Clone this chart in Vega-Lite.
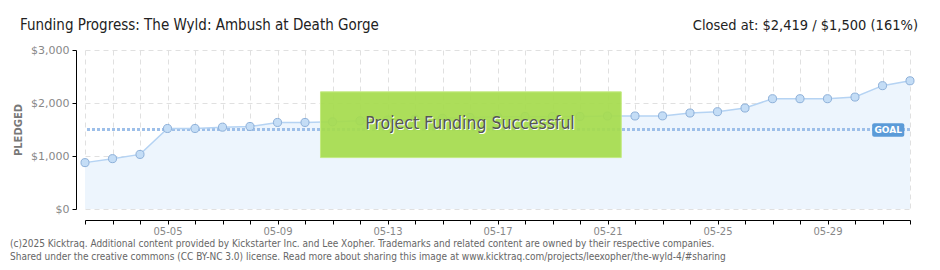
{
  "$schema": "https://vega.github.io/schema/vega-lite/v6.json",
  "autosize": {"type": "none"},
  "padding": {"left": 85, "top": 50, "right": 30, "bottom": 61},
  "width": 825,
  "height": 159,
  "background": "white",
  "config": {"view": {"stroke": null}, "font": "DejaVu Sans"},
  "data": {"values": [
    {"date": "2025-05-02", "pledged": 875},
    {"date": "2025-05-03", "pledged": 950},
    {"date": "2025-05-04", "pledged": 1030},
    {"date": "2025-05-05", "pledged": 1519},
    {"date": "2025-05-06", "pledged": 1519},
    {"date": "2025-05-07", "pledged": 1544},
    {"date": "2025-05-08", "pledged": 1557},
    {"date": "2025-05-09", "pledged": 1633},
    {"date": "2025-05-10", "pledged": 1633},
    {"date": "2025-05-11", "pledged": 1645},
    {"date": "2025-05-12", "pledged": 1664},
    {"date": "2025-05-13", "pledged": 1680},
    {"date": "2025-05-14", "pledged": 1695},
    {"date": "2025-05-15", "pledged": 1712},
    {"date": "2025-05-16", "pledged": 1728},
    {"date": "2025-05-17", "pledged": 1740},
    {"date": "2025-05-18", "pledged": 1747},
    {"date": "2025-05-19", "pledged": 1747},
    {"date": "2025-05-20", "pledged": 1747},
    {"date": "2025-05-21", "pledged": 1755},
    {"date": "2025-05-22", "pledged": 1755},
    {"date": "2025-05-23", "pledged": 1757},
    {"date": "2025-05-24", "pledged": 1811},
    {"date": "2025-05-25", "pledged": 1836},
    {"date": "2025-05-26", "pledged": 1905},
    {"date": "2025-05-27", "pledged": 2081},
    {"date": "2025-05-28", "pledged": 2081},
    {"date": "2025-05-29", "pledged": 2081},
    {"date": "2025-05-30", "pledged": 2112},
    {"date": "2025-05-31", "pledged": 2327},
    {"date": "2025-06-01", "pledged": 2419}
  ]},
  "layer": [
    {
      "mark": {"type": "area", "color": "#edf5fd", "opacity": 1},
      "encoding": {
        "x": {"field": "date", "type": "temporal",
          "scale": {"type": "utc", "nice": false, "domain": [{"year": 2025, "month": 5, "date": 2, "utc": true}, {"year": 2025, "month": 6, "date": 1, "utc": true}]},
          "axis": {"title": null, "tickCount": {"interval": "day", "step": 1},
            "labelExpr": "utcmonth(datum.value) === 4 && (utcdate(datum.value) - 5) % 4 === 0 ? utcFormat(datum.value, '%m-%d') : ''",
            "offset": 11, "tickSize": 4, "tickColor": "#000", "domainColor": "#000",
            "grid": true, "gridDash": [5, 4], "gridColor": "#e0e0e0",
            "labelColor": "#888", "labelFontSize": 10, "labelPadding": 2, "labelOverlap": false, "labelFlush": false}},
        "y": {"field": "pledged", "type": "quantitative",
          "scale": {"domain": [0, 3000], "nice": false},
          "axis": {"title": "PLEDGED", "values": [0, 250, 500, 750, 1000, 1250, 1500, 1750, 2000, 2250, 2500, 2750, 3000],
            "labelExpr": "datum.value % 500 === 0 ? '$' + format(datum.value, ',') : ''",
            "tickColor": {"condition": {"test": "datum.value % 500 !== 0", "value": "#e00000"}, "value": "#000"},
            "gridOpacity": {"condition": {"test": "datum.value % 500 !== 0", "value": 0}, "value": 1},
            "grid": true, "gridDash": [5, 4], "gridColor": "#e0e0e0",
            "offset": 9, "tickSize": 4, "domainColor": "#000",
            "labelColor": "#888", "labelFontSize": 11, "labelPadding": 3,
            "titleColor": "#777", "titleFontSize": 10, "titleFontWeight": "bold", "titlePadding": 7}}
      }
    },
    {
      "data": {"values": [{}]},
      "mark": {"type": "rule", "color": "#9dbfe9", "strokeWidth": 3, "strokeDash": [3, 2]},
      "encoding": {"y": {"datum": 1500}}
    },
    {
      "mark": {"type": "line", "color": "#b5d3f3", "strokeWidth": 1.5},
      "encoding": {
        "x": {"field": "date", "type": "temporal"},
        "y": {"field": "pledged", "type": "quantitative"}
      }
    },
    {
      "mark": {"type": "point", "filled": true, "fill": "#c4ddf6", "stroke": "#8db0d9", "strokeWidth": 1, "size": 65, "opacity": 1},
      "encoding": {
        "x": {"field": "date", "type": "temporal"},
        "y": {"field": "pledged", "type": "quantitative"}
      }
    },
    {
      "data": {"values": [{}]},
      "mark": {"type": "rect", "fill": "#a6dc4e", "fillOpacity": 0.93, "stroke": "#c3ea80", "strokeWidth": 1},
      "encoding": {
        "x": {"datum": {"year": 2025, "month": 5, "date": 10, "hours": 13, "minutes": 30, "utc": true}, "type": "temporal"},
        "x2": {"datum": {"year": 2025, "month": 5, "date": 21, "hours": 12, "utc": true}},
        "y": {"datum": 2210},
        "y2": {"datum": 970}
      }
    },
    {
      "data": {"values": [{"t": "Project Funding Successful"}]},
      "mark": {"type": "text", "font": "DejaVu Sans Condensed", "fontSize": 17.5, "color": "#ffffff", "dx": 1, "dy": 1, "align": "center", "baseline": "middle"},
      "encoding": {
        "x": {"datum": {"year": 2025, "month": 5, "date": 16, "utc": true}, "type": "temporal"},
        "y": {"datum": 1600},
        "text": {"field": "t"}
      }
    },
    {
      "data": {"values": [{"t": "Project Funding Successful"}]},
      "mark": {"type": "text", "font": "DejaVu Sans Condensed", "fontSize": 17.5, "color": "#555555", "align": "center", "baseline": "middle"},
      "encoding": {
        "x": {"datum": {"year": 2025, "month": 5, "date": 16, "utc": true}, "type": "temporal"},
        "y": {"datum": 1600},
        "text": {"field": "t"}
      }
    },
    {
      "data": {"values": [{}]},
      "mark": {"type": "rect", "fill": "#5b9bd8", "cornerRadius": 2},
      "encoding": {
        "x": {"datum": {"year": 2025, "month": 5, "date": 30, "hours": 15, "utc": true}, "type": "temporal"},
        "x2": {"datum": {"year": 2025, "month": 5, "date": 31, "hours": 19, "utc": true}},
        "y": {"datum": 1617},
        "y2": {"datum": 1364}
      }
    },
    {
      "data": {"values": [{"t": "GOAL"}]},
      "mark": {"type": "text", "font": "DejaVu Sans", "fontSize": 9, "fontWeight": "bold", "color": "#ffffff", "align": "center", "baseline": "middle"},
      "encoding": {
        "x": {"datum": {"year": 2025, "month": 5, "date": 31, "hours": 5, "utc": true}, "type": "temporal"},
        "y": {"datum": 1490},
        "text": {"field": "t"}
      }
    },
    {
      "data": {"values": [{"t": "Funding Progress: The Wyld: Ambush at Death Gorge"}]},
      "mark": {"type": "text", "font": "DejaVu Sans Condensed", "fontSize": 15, "color": "#222222", "align": "left", "baseline": "alphabetic", "dx": -65, "dy": -20},
      "encoding": {
        "x": {"datum": {"year": 2025, "month": 5, "date": 2, "utc": true}, "type": "temporal"},
        "y": {"datum": 3000},
        "text": {"field": "t"}
      }
    },
    {
      "data": {"values": [{"t": "Closed at: $2,419 / $1,500 (161%)"}]},
      "mark": {"type": "text", "font": "DejaVu Sans Condensed", "fontSize": 14.5, "color": "#222222", "align": "right", "baseline": "alphabetic", "dx": 8, "dy": -20},
      "encoding": {
        "x": {"datum": {"year": 2025, "month": 6, "date": 1, "utc": true}, "type": "temporal"},
        "y": {"datum": 3000},
        "text": {"field": "t"}
      }
    },
    {
      "data": {"values": [{"t": ["(c)2025 Kicktraq. Additional content provided by Kickstarter Inc. and Lee Xopher. Trademarks and related content are owned by their respective companies.", "Shared under the creative commons (CC BY-NC 3.0) license. Read more about sharing this image at www.kicktraq.com/projects/leexopher/the-wyld-4/#sharing"]}]},
      "mark": {"type": "text", "font": "DejaVu Sans Condensed", "fontSize": 10, "color": "#666666", "align": "left", "baseline": "alphabetic", "dx": -75, "dy": 38, "lineHeight": 13},
      "encoding": {
        "x": {"datum": {"year": 2025, "month": 5, "date": 2, "utc": true}, "type": "temporal"},
        "y": {"datum": 0},
        "text": {"field": "t"}
      }
    }
  ]
}
